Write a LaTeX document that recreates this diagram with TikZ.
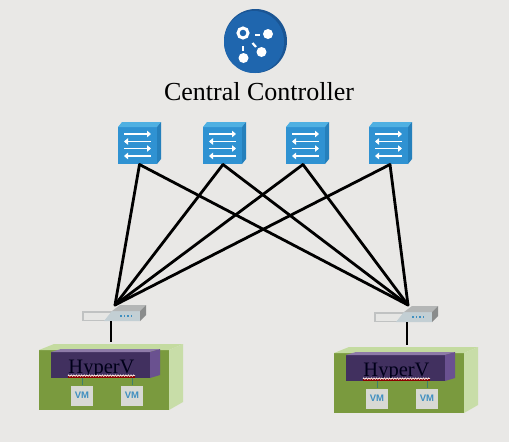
\documentclass[tikz,border=0pt]{standalone}
\usepackage{fontspec}
\setmainfont{Liberation Serif}
\newfontfamily\vmfont{Liberation Sans}
\usetikzlibrary{arrows.meta,decorations.pathmorphing}
\definecolor{bg}{HTML}{E9E8E6}
\definecolor{logoblue}{HTML}{1F66AE}
\definecolor{logodark}{HTML}{1A5594}
\definecolor{swfront}{HTML}{2F92D2}
\definecolor{swtop}{HTML}{4FB0E2}
\definecolor{swside}{HTML}{2580BC}
\definecolor{hostgreen}{HTML}{7A9A3E}
\definecolor{hostlight}{HTML}{C4DBA0}
\definecolor{hostside}{HTML}{C8DDA8}
\definecolor{purplefront}{HTML}{41305F}
\definecolor{purpleside}{HTML}{6A5190}
\definecolor{purpletop}{HTML}{8E7BA8}
\definecolor{vmbox}{HTML}{D8D9D4}
\definecolor{vmblue}{HTML}{3F8FC0}
\definecolor{vmlink}{HTML}{3F7F6A}
\definecolor{torrim}{HTML}{C0C2C2}
\definecolor{torface}{HTML}{E6E6E4}
\definecolor{torpanel}{HTML}{C3CFD4}
\definecolor{tortop}{HTML}{B4B6B6}
\definecolor{torside}{HTML}{8A8C8C}
\tikzset{
  x=1pt,y=-1pt,
  link/.style={draw=black,line width=2.8pt,line cap=round},
  swarrow/.style={draw=white,line width=1.9pt,-{Triangle[length=4pt,width=6.5pt]}},
  swbody/.style={fill=swfront,draw=none,minimum width=39pt,minimum height=37pt,inner sep=0pt,outer sep=0pt},
  vmnode/.style={fill=vmbox,draw=none,minimum width=22pt,minimum height=20pt,inner sep=0pt,text=vmblue,font=\vmfont\bfseries\fontsize{9.5}{9.5}\selectfont},
  hostlabel/.style={inner sep=0pt,text=black!90!blue,font=\fontsize{20.5}{20.5}\selectfont},
  logodot/.style={fill=white,draw=none},
  logodash/.style={draw=white,line width=2.2pt}
}
% name, left x of the front face
\newcommand{\switchicon}[2]{%
  \node[swbody] (#1) at (#2+19.5,145.5) {};
  \fill[swtop] (#1.north west) -- ++(4,-5) -- ++(39,0) -- (#1.north east) -- cycle;
  \fill[swside] (#1.north east) -- ++(4,-5) -- ++(0,37) -- (#1.south east) -- cycle;
  \draw[swarrow] (#2+6,134) -- (#2+33,134);
  \draw[swarrow] (#2+33,141.5) -- (#2+6,141.5);
  \draw[swarrow] (#2+6,148.5) -- (#2+33,148.5);
  \draw[swarrow] (#2+33,156) -- (#2+6,156);
}
% name, left x of the front, top y of the front
\newcommand{\toricon}[3]{%
  \node[fill=torrim,draw=none,minimum width=58pt,minimum height=10pt,inner sep=0pt,outer sep=0pt] (#1) at (#2+29,#3+5) {};
  \fill[torface] (#2+2,#3+2) rectangle (#2+30,#3+8.5);
  \fill[torpanel] (#2+22,#3+10) -- (#2+30,#3) -- (#2+58,#3) -- (#2+58,#3+10) -- cycle;
  \fill[tortop] (#2+30,#3) -- (#2+38,#3-6) -- (#2+64,#3-6) -- (#2+58,#3) -- cycle;
  \fill[torside] (#2+58,#3) -- (#2+64,#3-6) -- (#2+64,#3+4) -- (#2+58,#3+10) -- cycle;
  \foreach \d in {0,3.5,7,10.5} \fill[vmblue] (#2+38+\d,#3+4.2) rectangle ++(1.8,1.6);
}
% suffix, left x of green front, top y of green front
\newcommand{\hosticon}[3]{%
  \node[fill=hostgreen,draw=none,minimum width=130pt,minimum height=60pt,inner sep=0pt,outer sep=0pt] (host#1) at (#2+65,#3+30) {};
  \fill[hostlight] (#2,#3) -- (#2+15,#3-6) -- (#2+144,#3-6) -- (#2+130,#3) -- cycle;
  \fill[hostside] (#2+130,#3) -- (#2+144,#3-6) -- (#2+144,#3+52) -- (#2+130,#3+60) -- cycle;
  \fill[purplefront] (#2+12,#3+2) rectangle (#2+111,#3+28);
  \fill[purpletop] (#2+12,#3+2) -- (#2+22,#3-1) -- (#2+121,#3-1) -- (#2+111,#3+2) -- cycle;
  \fill[purpleside] (#2+111,#3+2) -- (#2+121,#3-1) -- (#2+121,#3+25) -- (#2+111,#3+28) -- cycle;
  \node[hostlabel] (label#1) at (#2+62.5,#3+19) {HyperV};
  \fill[red!55!black] (#2+29,#3+25.4) rectangle (#2+96,#3+27.6);
  \draw[white,line width=0.7pt,decorate,decoration={zigzag,segment length=2.6pt,amplitude=0.7pt}] (#2+29,#3+25.6) -- (#2+96,#3+25.6);
  \node[vmnode] (vm#1a) at (#2+43,#3+45.5) {VM};
  \node[vmnode] (vm#1b) at (#2+93,#3+45.5) {VM};
  \coordinate (hv#1a) at (#2+43,#3+28);
  \coordinate (hv#1b) at (#2+93,#3+28);
  \draw[vmlink,line width=0.7pt] (hv#1a) -- (vm#1a.north);
  \draw[vmlink,line width=0.7pt] (hv#1b) -- (vm#1b.north);
}
\begin{document}
\begin{tikzpicture}
\useasboundingbox (0,0) rectangle (509,442);
\fill[bg] (0,0) rectangle (509,442);
% logo
\fill[logodark] (255.5,41) ellipse [x radius=31.5,y radius=32];
\fill[logoblue] (254,42) ellipse [x radius=30,y radius=31];
\draw[white,line width=3pt] (243,33) circle (5);
\fill[logodot] (268,34) circle (5);
\fill[logodot] (261.5,52) circle (5);
\fill[logodot] (243.5,58) circle (5);
\draw[logodash] (255,35) -- (259.5,35);
\draw[logodash] (252.5,43) -- (256,47);
\draw[logodash] (243,46) -- (243,50.5);
\node[inner sep=0pt,font=\fontsize{26}{26}\selectfont] (title) at (259,92) {Central Controller};
% switches
\switchicon{sw1}{118}
\switchicon{sw2}{203}
\switchicon{sw3}{286}
\switchicon{sw4}{369}
% hosts
\hosticon{1}{39}{350}
\hosticon{2}{334}{353}
% top of rack
\toricon{tor1}{82}{311}
\toricon{tor2}{374}{312}
\coordinate (up1) at (115,305);
\coordinate (up2) at (408,305);
\coordinate (d1) at (139.5,164.5);
\coordinate (d2) at (223,164.5);
\coordinate (d3) at (303,164.5);
\coordinate (d4) at (390,164.5);
\foreach \s in {1,2,3,4} {
  \draw[link] (d\s) -- (up1);
  \draw[link] (d\s) -- (up2);
}
\coordinate (t1) at (111,321);
\coordinate (t2) at (407,322);
\coordinate (h1) at (111,342);
\coordinate (h2) at (407,345);
\draw[link,line cap=butt] (t1) -- (h1);
\draw[link,line cap=butt] (t2) -- (h2);
\end{tikzpicture}
\end{document}
